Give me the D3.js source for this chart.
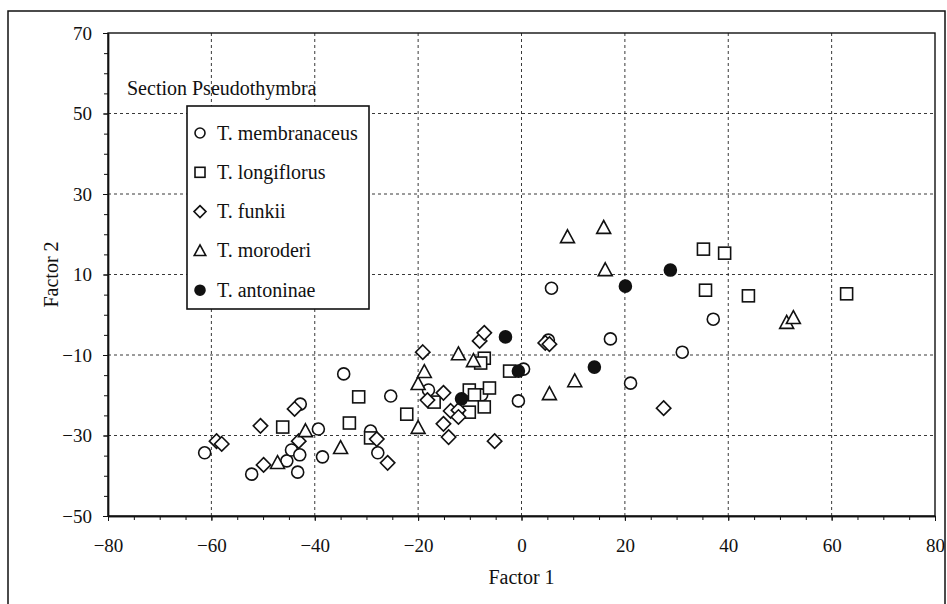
<!DOCTYPE html>
<html>
<head>
<meta charset="utf-8">
<script src="https://cdn.jsdelivr.net/npm/d3@7"></script>
<style>
  body { margin: 0; background: #fff; }
  svg text { font-family: "Liberation Serif", "DejaVu Serif", serif; fill: #111; }
</style>
</head>
<body>
<svg id="chart" width="947" height="604" font-family="Liberation Serif, serif"></svg>
<script>
// Series (Factor 1, Factor 2)
const membranaceus = [
  [-61.3, -34.3], [-52.2, -39.6], [-45.4, -36.3], [-44.5, -33.6], [-42.9, -34.8],
  [-43.3, -39.1], [-42.8, -22.2], [-39.3, -28.4], [-38.5, -35.3], [-34.4, -14.7],
  [-29.2, -28.9], [-27.8, -34.3], [-25.3, -20.2], [-18.0, -18.7], [-7.7, -19.9],
  [-0.6, -21.4], [0.4, -13.5], [5.2, -6.3], [5.8, 6.6], [17.2, -6.0],
  [21.1, -17.0], [31.1, -9.3], [37.1, -1.1]
];
const longiflorus = [
  [-46.2, -27.9], [-33.3, -26.9], [-31.5, -20.4], [-29.2, -30.6], [-22.2, -24.7],
  [-16.9, -21.7], [-10.1, -18.7], [-9.1, -19.9], [-6.2, -18.2], [-10.1, -24.2],
  [-7.2, -22.9], [-7.2, -10.8], [-7.9, -12.0], [-2.3, -14.0], [35.2, 16.3],
  [39.3, 15.3], [35.6, 6.1], [43.9, 4.7], [62.9, 5.2]
];
const funkii = [
  [-59.0, -31.4], [-58.0, -32.1], [-50.5, -27.6], [-49.9, -37.3], [-43.9, -23.4],
  [-43.1, -31.4], [-28.0, -30.9], [-25.9, -36.8], [-19.1, -9.3], [-18.2, -21.2],
  [-15.1, -19.4], [-13.7, -23.9], [-12.2, -23.7], [-12.2, -25.4], [-15.1, -27.1],
  [-14.1, -30.4], [-8.1, -6.5], [-7.2, -4.5], [-5.2, -31.4], [4.6, -7.0],
  [5.4, -7.3], [27.5, -23.2]
];
const moroderi = [
  [-47.2, -36.8], [-41.8, -28.9], [-35.0, -33.1], [-20.0, -28.1], [-20.0, -17.2],
  [-18.8, -14.2], [-12.2, -9.8], [-9.3, -11.5], [5.4, -19.7], [10.3, -16.5],
  [8.9, 19.3], [15.9, 21.6], [16.2, 11.1], [51.3, -2.0], [52.6, -0.8]
];
const antoninae = [
  [-11.6, -20.9], [-3.1, -5.5], [-0.6, -14.0], [14.1, -13.0], [20.1, 7.1], [28.8, 11.1]
];

const xTicks = [-80, -60, -40, -20, 0, 20, 40, 60, 80];
const yTicks = [-50, -30, -10, 10, 30, 50, 70];

const series = [
  { name: 'T. membranaceus', data: membranaceus, shape: 'circle' },
  { name: 'T. longiflorus', data: longiflorus, shape: 'square' },
  { name: 'T. funkii', data: funkii, shape: 'diamond' },
  { name: 'T. moroderi', data: moroderi, shape: 'triangle' },
  { name: 'T. antoninae', data: antoninae, shape: 'filled' }
];

const svg = d3.select('#chart');

// outer frame
svg.append('rect')
  .attr('x', 8).attr('y', 11).attr('width', 937).attr('height', 600)
  .attr('fill', 'none').attr('stroke', '#111').attr('stroke-width', 1.5);

const x = d3.scaleLinear().domain([-80, 80]).range([108, 935]);
const y = d3.scaleLinear().domain([-50, 70]).range([516, 33]);

// grid
const grid = svg.append('g');
grid.selectAll('.gx').data(xTicks.slice(1, -1)).enter().append('line')
  .attr('x1', d => x(d)).attr('x2', d => x(d))
  .attr('y1', y(70)).attr('y2', y(-50))
  .attr('stroke', '#222').attr('stroke-width', 0.9).attr('stroke-dasharray', '3,3');
grid.selectAll('.gy').data(yTicks.slice(1, -1)).enter().append('line')
  .attr('x1', x(-80)).attr('x2', x(80))
  .attr('y1', d => y(d)).attr('y2', d => y(d))
  .attr('stroke', '#222').attr('stroke-width', 0.9).attr('stroke-dasharray', '3,3');

// plot border
svg.append('rect')
  .attr('x', x(-80)).attr('y', y(70))
  .attr('width', x(80) - x(-80)).attr('height', y(-50) - y(70))
  .attr('fill', 'none').attr('stroke', '#111').attr('stroke-width', 1.4);

// axes
const fmt = d3.format('');
const xAxis = svg.append('g')
  .attr('transform', `translate(0,${y(-50)})`)
  .call(d3.axisBottom(x).tickValues(xTicks).tickSize(5).tickSizeOuter(0).tickPadding(18).tickFormat(fmt));
const xMinor = svg.append('g')
  .attr('transform', `translate(0,${y(-50)})`)
  .call(d3.axisBottom(x).tickValues(d3.range(-75, 80, 5)).tickSize(4).tickSizeOuter(0).tickFormat(''));
const yAxis = svg.append('g')
  .attr('transform', `translate(${x(-80)},0)`)
  .call(d3.axisLeft(y).tickValues(yTicks).tickSize(5).tickSizeOuter(0).tickPadding(11).tickFormat(fmt));
const yMinor = svg.append('g')
  .attr('transform', `translate(${x(-80)},0)`)
  .call(d3.axisLeft(y).tickValues(d3.range(-45, 70, 5)).tickSize(4).tickSizeOuter(0).tickFormat(''));

[xAxis, xMinor, yAxis, yMinor].forEach(g => {
  g.attr('font-family', null);
  g.select('.domain').attr('stroke', '#111').attr('stroke-width', 1.4);
  g.selectAll('.tick line').attr('stroke', '#111');
  g.selectAll('.tick text').attr('font-size', 19).attr('fill', '#111');
});

// axis titles
svg.append('text')
  .attr('x', x(0)).attr('y', 584).attr('text-anchor', 'middle')
  .attr('font-size', 20).text('Factor 1');
svg.append('text')
  .attr('transform', `translate(58,${y(10)}) rotate(-90)`)
  .attr('text-anchor', 'middle').attr('font-size', 20).text('Factor 2');

// marker shapes
function drawMarker(g, shape, size) {
  const s = size;
  if (shape === 'circle' || shape === 'filled') {
    g.append('circle').attr('r', s * 0.5)
      .attr('fill', shape === 'filled' ? '#111' : '#fff')
      .attr('stroke', '#111').attr('stroke-width', 1.6);
  } else if (shape === 'square') {
    g.append('rect').attr('x', -s / 2).attr('y', -s / 2).attr('width', s).attr('height', s)
      .attr('fill', '#fff').attr('stroke', '#111').attr('stroke-width', 1.6);
  } else if (shape === 'diamond') {
    const h = s * 0.6;
    g.append('path').attr('d', `M0,${-h}L${h},0L0,${h}L${-h},0Z`)
      .attr('fill', '#fff').attr('stroke', '#111').attr('stroke-width', 1.6);
  } else if (shape === 'triangle') {
    const h = s * 0.58;
    g.append('path').attr('d', `M0,${-h * 1.05}L${h},${h * 0.8}L${-h},${h * 0.8}Z`)
      .attr('fill', '#fff').attr('stroke', '#111').attr('stroke-width', 1.6);
  }
}

// points
series.forEach(s => {
  svg.append('g').selectAll('g').data(s.data).enter().append('g')
    .attr('transform', d => `translate(${x(d[0])},${y(d[1])})`)
    .each(function () { drawMarker(d3.select(this), s.shape, 12); });
});

// legend
svg.append('text').attr('x', 127).attr('y', 95).attr('font-size', 20).text('Section Pseudothymbra');
svg.append('rect').attr('x', 187).attr('y', 106).attr('width', 182).attr('height', 203)
  .attr('fill', '#fff').attr('stroke', '#111').attr('stroke-width', 1.6);
const legendRows = svg.append('g').selectAll('g').data(series).enter().append('g')
  .attr('transform', (d, i) => `translate(200,${133 + i * 39.3})`);
legendRows.each(function (d) { drawMarker(d3.select(this), d.shape, 10); });
legendRows.append('text').attr('x', 17).attr('y', 6.5).attr('font-size', 20).text(d => d.name);
</script>
</body>
</html>
